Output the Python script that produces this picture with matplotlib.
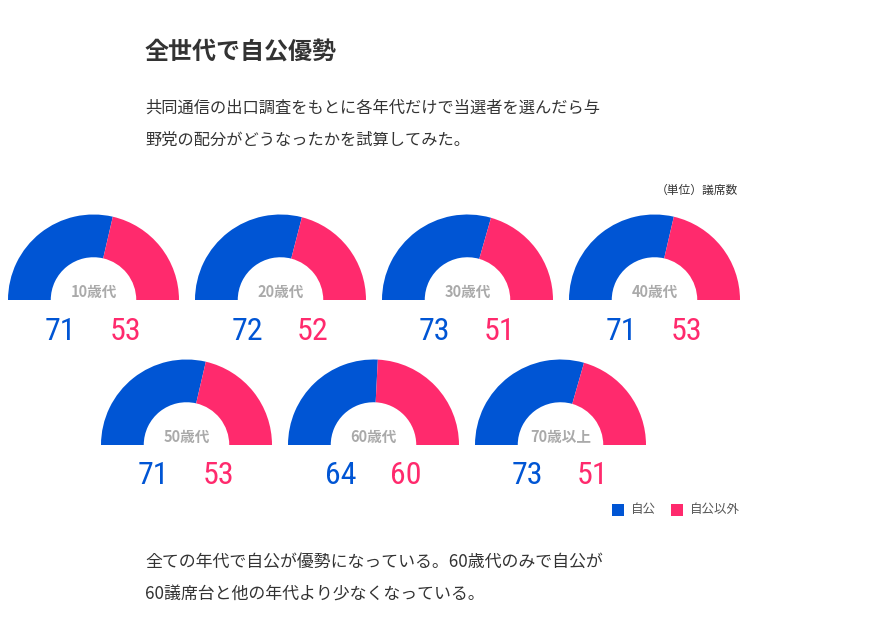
import matplotlib.pyplot as plt

plt.rcParams['font.family'] = ['Noto Sans CJK JP', 'DejaVu Sans']

# データ（議席数）
ages = ["10歳代", "20歳代", "30歳代", "40歳代", "50歳代", "60歳代", "70歳以上"]
jikou = [71, 72, 73, 71, 71, 64, 73]
others = [53, 52, 51, 53, 53, 60, 51]

BLUE = "#0055d4"
PINK = "#ff2a6d"
TEXT = "#333333"
GRAY = "#aaaaaa"
NUMFONT = ["Roboto Condensed", "Roboto"]

W, H = 889, 635
fig = plt.figure(figsize=(W / 100, H / 100), dpi=100)
ax = fig.add_axes([0, 0, 1, 1])

# ゲージの中心（ピクセル座標、上から）
centers = [(93.5, 300), (280.5, 300), (467.5, 300), (654.5, 300),
           (186.5, 445), (373.5, 445), (560.5, 445)]
R = 85.5

for name, a, b, (cx, cy) in zip(ages, jikou, others, centers):
    y = H - cy
    # 半円にするため、合計と同じ透明のスライスを追加
    ax.pie([a, b, a + b], colors=[BLUE, PINK, "none"], startangle=180,
           counterclock=False, center=(cx, y), radius=R,
           wedgeprops=dict(width=R / 2, linewidth=0))
    ax.text(cx, y + 8, name, ha="center", va="center", fontsize=10.5,
            fontweight="bold", color=GRAY)
    ax.text(cx - 33, y - 31, str(a), ha="center", va="center", fontsize=23,
            color=BLUE, family=NUMFONT)
    ax.text(cx + 32, y - 31, str(b), ha="center", va="center", fontsize=23,
            color=PINK, family=NUMFONT)

ax.set_xlim(0, W)
ax.set_ylim(0, H)
ax.axis("off")

# タイトルと説明
ax.text(145, H - 53, "全世代で自公優勢", fontsize=17.3, fontweight="bold",
        color=TEXT, va="center")
ax.text(145, H - 108, "共同通信の出口調査をもとに各年代だけで当選者を選んだら与",
        fontsize=11.7, color=TEXT, va="center")
ax.text(145, H - 140, "野党の配分がどうなったかを試算してみた。",
        fontsize=11.7, color=TEXT, va="center")
ax.text(738, H - 190, "（単位）議席数", fontsize=8.5, color=TEXT,
        ha="right", va="center")

# 凡例
ax.scatter([618, 677], [H - 510, H - 510], marker="s", s=80,
           color=[BLUE, PINK], linewidths=0)
ax.text(631, H - 510, "自公", fontsize=9, color="#555555", va="center")
ax.text(690, H - 510, "自公以外", fontsize=9, color="#555555", va="center")

ax.text(145, H - 562, "全ての年代で自公が優勢になっている。60歳代のみで自公が",
        fontsize=12.2, color=TEXT, va="center")
ax.text(145, H - 595, "60議席台と他の年代より少なくなっている。",
        fontsize=12.2, color=TEXT, va="center")

fig.savefig("out.png", dpi=100, facecolor="white")
